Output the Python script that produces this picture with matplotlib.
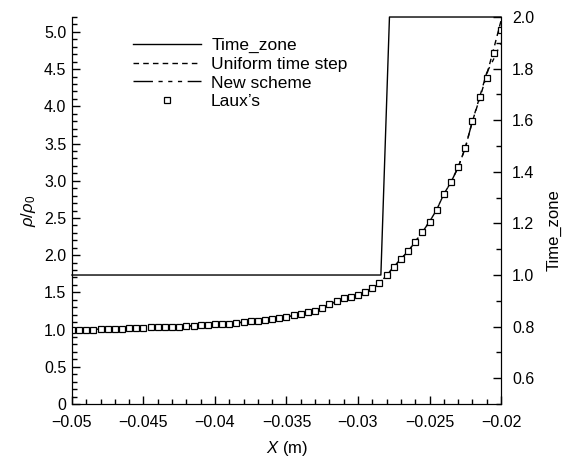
import matplotlib
matplotlib.use('Agg')
import matplotlib.pyplot as plt
from matplotlib.ticker import MultipleLocator, FuncFormatter
from matplotlib.lines import Line2D

plt.rcParams['font.family'] = ['Liberation Sans', 'DejaVu Sans']
plt.rcParams['mathtext.fontset'] = 'custom'
plt.rcParams['mathtext.rm'] = 'Liberation Sans'
plt.rcParams['mathtext.it'] = 'Liberation Sans:italic'

# Laux's reference points
x_laux = [-0.0500, -0.0495, -0.0490, -0.0485, -0.0480, -0.0475, -0.0470, -0.0465,
          -0.0460, -0.0455, -0.0450, -0.0445, -0.0440, -0.0435, -0.0430, -0.0425,
          -0.0420, -0.0415, -0.0410, -0.0405, -0.0400, -0.0395, -0.0390, -0.0385,
          -0.0380, -0.0375, -0.0370, -0.0365, -0.0360, -0.0355, -0.0350, -0.0345,
          -0.0340, -0.0335, -0.0330, -0.0325, -0.0320, -0.0315, -0.0310, -0.0305,
          -0.0300, -0.0295, -0.0290, -0.0285, -0.0280, -0.0275, -0.0270, -0.0265,
          -0.0260, -0.0255, -0.0250, -0.0245, -0.0240, -0.0235, -0.0230, -0.0225,
          -0.0220, -0.0215, -0.0210, -0.0205, -0.0200]
rho_laux = [1.00, 1.00, 1.00, 1.00, 1.01, 1.01, 1.01, 1.01,
            1.02, 1.02, 1.02, 1.03, 1.03, 1.03, 1.04, 1.04,
            1.05, 1.05, 1.06, 1.06, 1.07, 1.08, 1.08, 1.09,
            1.10, 1.11, 1.12, 1.13, 1.14, 1.16, 1.17, 1.19,
            1.21, 1.23, 1.25, 1.29, 1.34, 1.38, 1.42, 1.44,
            1.47, 1.51, 1.56, 1.62, 1.73, 1.84, 1.95, 2.05,
            2.18, 2.31, 2.45, 2.61, 2.82, 2.98, 3.18, 3.44,
            3.80, 4.12, 4.38, 4.72, 5.03]

# simulated curves (follow Laux closely, differ at the end)
rho_uniform = rho_laux[:-4] + [4.10, 4.42, 4.78, 5.15]
rho_new = rho_laux[:-4] + [4.12, 4.45, 4.64, 4.85]

# time zone (right axis)
tz_x = [-0.05, -0.0284, -0.0278, -0.02]
tz_val = [1.0, 1.0, 2.0, 2.0]

fig = plt.figure(figsize=(5.69, 4.61), dpi=100)
ax = fig.add_axes([0.1265, 0.1236, 0.754, 0.8395])
ax2 = ax.twinx()

ax.plot(x_laux, rho_uniform, color='black', lw=1.0, dashes=(4, 3))
ax.plot(x_laux, rho_new, color='black', lw=1.0, dashes=(14, 4, 3, 4, 3, 4, 3, 4))
ax.plot(x_laux, rho_laux, ls='none', marker='s', ms=3.8, mfc='white', mec='black',
        mew=0.9, zorder=5)
ax2.plot(tz_x, tz_val, color='black', lw=1.0, clip_on=False)

ax.set_xlim(-0.05, -0.02)
ax.set_ylim(0, 5.2)
ax2.set_ylim(0.5, 2.0)

for a in (ax, ax2):
    a.spines['top'].set_visible(False)

ax.xaxis.set_major_locator(MultipleLocator(0.005))
ax.xaxis.set_minor_locator(MultipleLocator(0.001))
ax.yaxis.set_major_locator(MultipleLocator(0.5))
ax.yaxis.set_minor_locator(MultipleLocator(0.1))
ax2.yaxis.set_major_locator(MultipleLocator(0.2))
ax2.yaxis.set_minor_locator(MultipleLocator(0.1))

ax.xaxis.set_major_formatter(FuncFormatter(lambda v, p: ('%g' % round(v, 4)).replace('-', '\u2212')))
ax.yaxis.set_major_formatter(FuncFormatter(lambda v, p: '0' if abs(v) < 1e-9 else '%.1f' % v))
ax2.yaxis.set_major_formatter(FuncFormatter(lambda v, p: '%.1f' % v))

ax.tick_params(axis='x', which='both', direction='in', top=False, labelsize=11.5, pad=8)
ax.tick_params(axis='y', which='both', direction='in', right=False, labelsize=11.5, pad=4)
ax2.tick_params(axis='y', which='both', direction='in', labelsize=11.5, pad=8)
for a in (ax, ax2):
    a.tick_params(which='major', length=6, width=1)
    a.tick_params(which='minor', length=3.5, width=1)

ax.set_xlabel('$X$ (m)', fontsize=12)
ax.xaxis.set_label_coords(0.5, -0.09)
ax.set_ylabel('$\\rho/\\rho_0$', fontsize=12)
ax.yaxis.set_label_coords(-0.08, 0.5)
ax2.set_ylabel('Time_zone', fontsize=12, rotation=90)
ax2.yaxis.set_label_coords(1.105, 0.45)

handles = [
    Line2D([], [], color='black', lw=1.0),
    Line2D([], [], color='black', lw=1.0, dashes=(4, 3)),
    Line2D([], [], color='black', lw=1.0, dashes=(14, 4, 3, 4, 3, 4, 3, 4)),
    Line2D([], [], ls='none', marker='s', ms=3.8, mfc='white', mec='black', mew=0.9),
]
labels = ['Time_zone', 'Uniform time step', 'New scheme', 'Laux\u2019s']
ax.legend(handles, labels, loc='upper left', bbox_to_anchor=(133 / 569, 1 - 38 / 461),
          bbox_transform=fig.transFigure, frameon=False, fontsize=12.5,
          handlelength=3.9, handletextpad=0.6, labelspacing=0.2,
          borderpad=0, borderaxespad=0)

fig.savefig('out.png', dpi=100)
